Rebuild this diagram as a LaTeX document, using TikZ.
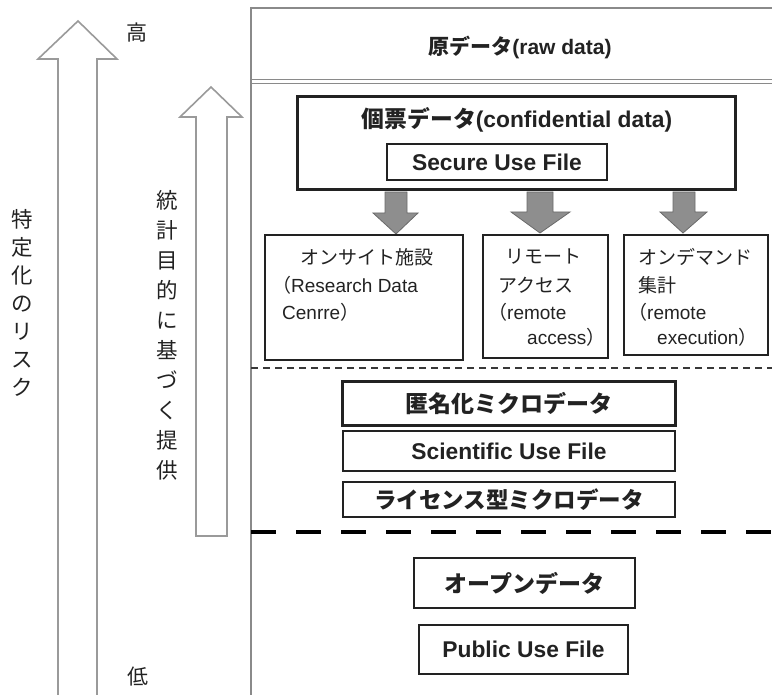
\documentclass[tikz,border=0pt]{standalone}
\usepackage{fontspec}
\setmainfont{Liberation Sans}
\newfontfamily\jp{Noto Sans CJK JP}
\usetikzlibrary{calc}
\definecolor{arrgray}{HTML}{9A9A9A}
\definecolor{panelgray}{HTML}{8A8A8A}
\definecolor{blockfill}{HTML}{8E8E8E}
\definecolor{blockdraw}{HTML}{6A6A6A}
\definecolor{ink}{HTML}{222222}
\tikzset{
  hollow/.style={draw=arrgray, line width=1.6pt, fill=white},
  panelline/.style={draw=panelgray, line width=1.8pt},
  blockarrow/.style={fill=blockfill, draw=blockdraw, line width=0.8pt},
  thinbox/.style={draw=ink, line width=1.6pt, inner sep=0pt},
  thickbox/.style={draw=ink, line width=3pt, inner sep=0pt},
  btext/.style={font=\bfseries\fontsize{22.8}{26}\selectfont, text=ink, inner sep=0pt},
  jbtext/.style={font=\jp\bfseries\fontsize{23}{27}\selectfont},
  rtext/.style={font=\fontsize{19}{23}\selectfont, text=ink, inner sep=0pt, anchor=west},
  jrtext/.style={font=\jp\fontsize{19}{23}\selectfont},
  vtext/.style={text=ink, align=center, inner sep=0pt},
}
\begin{document}
\begin{tikzpicture}[x=1pt,y=-1pt]
\useasboundingbox (0,0) rectangle (772,695);
% hollow arrows
\draw[hollow] (58,700) -- (58,59) -- (38,59) -- (78,21) -- (117,59) -- (97,59) -- (97,700);
\draw[hollow] (196,536) -- (196,117) -- (180,117) -- (211,87) -- (242,117) -- (227,117) -- (227,536) -- cycle;
\node[font=\jp\fontsize{21}{24}\selectfont, text=ink] (hi) at (137,33) {高};
\node[font=\jp\fontsize{21}{24}\selectfont, text=ink] (lo) at (138,677) {低};
\node[vtext, font=\jp\fontsize{21.5}{28}\selectfont] (risk) at (22,303) {特\\定\\化\\の\\リ\\ス\\ク};
\node[vtext, font=\jp\fontsize{21.5}{30}\selectfont] (purpose) at (167,335) {統\\計\\目\\的\\に\\基\\づ\\く\\提\\供};
% panel lines
\draw[panelline] (251,7) -- (251,700);
\draw[panelline] (250,8) -- (775,8);
\draw[draw=panelgray, line width=1.4pt] (250,79.5) -- (775,79.5);
\draw[draw=panelgray, line width=1.4pt] (250,83.5) -- (775,83.5);
\node[btext, font=\bfseries\fontsize{21}{25}\selectfont] (raw) at (520,47) {{\jp 原データ}(raw data)};
% confidential
\node[thickbox, minimum width=438pt, minimum height=93pt] (conf) at (516,143.5) {};
\node[btext, font=\bfseries\fontsize{22.8}{26}\selectfont] (conft) at (517,120) {{\jp 個票データ}(confidential data)};
\node[thinbox, minimum width=220pt, minimum height=36pt, btext] (suf) at (497,162) {Secure Use File};
% block arrows
\draw[blockarrow] (385,192) -- (407,192) -- (407,213) -- (418,213) -- (396,234) -- (373,213) -- (385,213) -- cycle;
\draw[blockarrow] (527,192) -- (553,192) -- (553,212) -- (570,212) -- (540,233) -- (511,212) -- (527,212) -- cycle;
\draw[blockarrow] (673,192) -- (695,192) -- (695,212) -- (707,212) -- (683,233) -- (660,212) -- (673,212) -- cycle;
% three access boxes
\node[thinbox, minimum width=198pt, minimum height=125pt] (onsite) at (364,297.5) {};
\node[thinbox, minimum width=125pt, minimum height=123pt] (remote) at (545.5,296.5) {};
\node[thinbox, minimum width=144pt, minimum height=120pt] (ondemand) at (696,295) {};
\node[rtext, jrtext] (t1a) at (300,257) {オンサイト施設};
\node[rtext] (t1b) at (272,285) {{\jp （}Research Data};
\node[rtext] (t1c) at (282,312) {Cenrre{\jp ）}};
\node[rtext, jrtext] (t2a) at (505,257) {リモート};
\node[rtext, jrtext] (t2b) at (498,285) {アクセス};
\node[rtext] (t2c) at (488,312) {{\jp （}remote};
\node[rtext] (t2d) at (527,337) {access{\jp ）}};
\node[rtext, jrtext] (t3a) at (638,257) {オンデマンド};
\node[rtext, jrtext] (t3b) at (638,285) {集計};
\node[rtext] (t3c) at (628,312) {{\jp （}remote};
\node[rtext] (t3d) at (657,337) {execution{\jp ）}};
% dashed lines
\draw[draw=ink!90, line width=1.2pt, dash pattern=on 7pt off 5pt] (251,368) -- (772,368);
\draw[draw=black, line width=4pt, dash pattern=on 25pt off 20pt] (251,532) -- (775,532);
% middle group
\node[thickbox, minimum width=333pt, minimum height=43pt, btext, jbtext] (anon) at (508.5,403.5) {匿名化ミクロデータ};
\node[thinbox, minimum width=332pt, minimum height=40pt, btext] (sci) at (509,451) {\raisebox{-3pt}{Scientific Use File}};
\node[thinbox, minimum width=332pt, minimum height=35pt, btext, font=\jp\bfseries\fontsize{22.5}{26}\selectfont] (lic) at (509,499.5) {ライセンス型ミクロデータ};
% bottom group
\node[thinbox, minimum width=221pt, minimum height=50pt, btext, jbtext] (open) at (524.5,583) {オープンデータ};
\node[thinbox, minimum width=209pt, minimum height=49pt, btext] (puf) at (523.5,649.5) {Public Use File};
\end{tikzpicture}
\end{document}
